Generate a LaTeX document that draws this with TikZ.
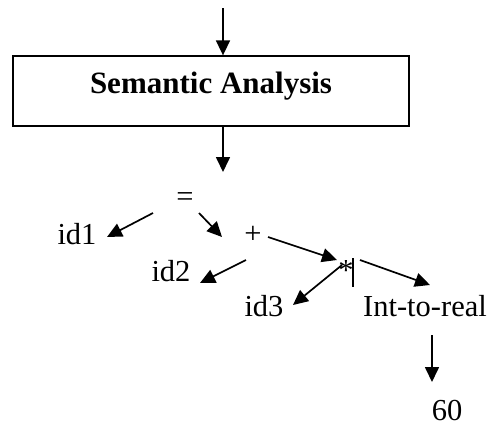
\documentclass[tikz,border=0pt]{standalone}
\usepackage{fontspec}
\setmainfont{Liberation Serif}
\usetikzlibrary{arrows.meta,calc}
\begin{document}
\begin{tikzpicture}[x=1pt,y=-1pt,
  arr/.style={line width=1.7pt,-{Triangle[length=15pt,width=14pt]}},
  lbl/.style={inner sep=0pt,anchor=base,font=\fontsize{30.5}{36}\selectfont},
  boxst/.style={draw,line width=1.3pt,minimum width=396pt,minimum height=70pt,inner sep=0pt}]
\useasboundingbox (0,0) rectangle (491,426);
\node[boxst] (box) at (211,91) {};
\node[lbl,font=\fontsize{31}{36}\selectfont\bfseries] (title) at (211,93) {Semantic Analysis};
\coordinate (in) at (223,8);
\coordinate (out) at (223,172);
\draw[arr] (in) -- (in |- box.north);
\draw[arr] (in |- box.south) -- (out);
\node[lbl] (eq) at (185,206) {=};
\node[lbl] (id1) at (77,244) {id1};
\node[lbl] (plus) at (253,243) {+};
\node[lbl] (id2) at (171,281) {id2};
\node[lbl] (star) at (346,280) {*};
\node[lbl] (id3) at (264,316) {id3};
\node[lbl] (int) at (425,316) {Int-to-real};
\node[lbl,text depth=0pt] (sixty) at (447,420) {60};
\draw[arr] ($(eq.base)+(-32,7)$) -- ($(id1.base)+(30,-7)$);
\draw[arr] ($(eq.base)+(14,7)$) -- ($(plus.base)+(-31,-6)$);
\draw[arr] ($(plus.base)+(15,-6)$) -- ($(star.base)+(-9,-20)$);
\draw[arr] ($(plus.base)+(-7,17)$) -- ($(id2.base)+(29,2)$);
\draw[arr] ($(star.base)+(-4,-15)$) -- ($(id3.base)+(29,-11)$);
\draw[arr] ($(star.base)+(14,-20)$) -- ($(int.base)+(5,-31)$);
\draw[arr] ($(int.base)+(7,19)$) -- ($(sixty.base)+(-15,-38)$);
\draw[line width=1.5pt] ($(star.base)+(7,-22)$) -- ($(star.base)+(7,7)$);
\end{tikzpicture}
\end{document}
